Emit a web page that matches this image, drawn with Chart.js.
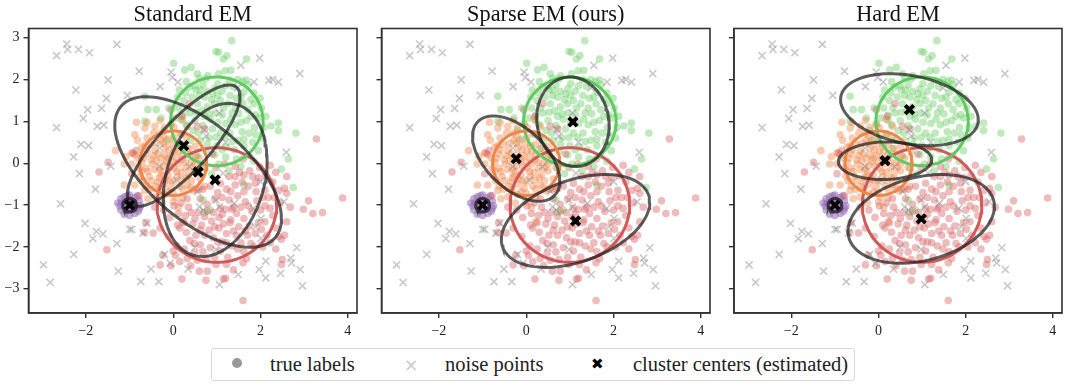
<!DOCTYPE html>
<html>
<head>
<meta charset="utf-8">
<title>EM clusters</title>
<script src="https://cdn.jsdelivr.net/npm/chart.js@4"></script>
<style>
body { margin: 0; background: #fff; width: 1080px; height: 387px; overflow: hidden; position: relative; font-family: "Liberation Serif", serif; }
canvas { position: absolute; top: 0; }
#legend { position: absolute; left: 211px; top: 348px; width: 644px; height: 33px; box-sizing: border-box; border: 1px solid #d9d9d9; border-radius: 3px; font-size: 20.5px; color: #222; }
#legend span { position: absolute; top: 4px; white-space: nowrap; }
#legend i { position: absolute; display: block; }
</style>
</head>
<body>
<canvas id="standard" width="367" height="335" style="left:0"></canvas>
<canvas id="sparse" width="367" height="335" style="left:353px"></canvas>
<canvas id="hard" width="367" height="335" style="left:705px"></canvas>
<div id="legend">
    <i style="left:20px;top:9px;width:10px;height:10px;border-radius:50%;background:#999"></i>
    <span style="left:58px">true labels</span>
    <span style="left:192px;top:6px;color:#c8c8c8;font-size:17px;font-family:'DejaVu Sans'">×</span>
    <span style="left:233px">noise points</span>
    <span style="left:379px;top:6px;color:#000;font-size:15px;font-family:'DejaVu Sans'">✖</span>
    <span style="left:421px">cluster centers (estimated)</span>
</div>
<script>
const titles = ['Standard EM', 'Sparse EM (ours)', 'Hard EM'];
const xTicks = [-2, 0, 2, 4];
const yTicks = [-3, -2, -1, 0, 1, 2, 3];

const noisePoints = [[-2.44,2.85],[-2.42,2.72],[-2.67,2.57],[-2.17,2.72],[-1.92,2.64],[-1.29,2.84],[-2.23,1.75],[-1.49,1.99],[-0.78,2.2],[-0.05,2.18],[-0.02,2.05],[0.11,1.94],[-0.3,1.83],[-1.05,1.62],[-1.53,1.55],[-1.64,1.31],[-1.96,1.28],[-2.06,1.07],[-2.67,0.85],[-1.74,0.88],[-1.59,0.91],[-2.11,0.45],[-1.94,0.42],[-2.28,0.15],[-2.15,-0.25],[-1.43,-0.07],[-1.78,-0.62],[-2.58,-0.97],[-2.02,-1.44],[-1.76,-1.63],[-1.84,-1.8],[-1.61,-1.69],[-1.29,-1.92],[-2.28,-2.18],[-2.97,-2.43],[-2.82,-2.85],[-1.26,-2.58],[-0.74,-2.83],[-0.51,-2.53],[-0.33,-2.83],[-1,-1.58],[-0.6,-1.43],[-0.69,-1.67],[-0.2,-2.18],[-0.07,-2.39],[0.34,-2.53],[0.5,-2.01],[0.98,-2.06],[1.06,-2.9],[1.49,-2.66],[1.97,-2.54],[2.12,-2.34],[2.12,-2.74],[2.46,-2.63],[2.69,-2.27],[2.83,-2.02],[2.71,-2.38],[2.91,-2.54],[2.96,-2.93],[1.98,2.51],[1.55,2.34],[1.85,1.94],[2.19,1.98],[2.28,2],[2.41,1.94],[2.9,2.14],[2.59,0.26],[2.54,-0.92],[2,-0.44],[1.84,-1.08],[2.01,-1.32],[2.01,-1.8],[1.89,-1.52],[1.4,-0.96],[0.98,-0.88],[1.06,-1.04],[0.6,-1.04],[0.69,-1.12],[0.56,-0.68],[0.71,0.8],[1.06,1.2],[1.48,1.8],[-0.31,0.36],[-0.31,-0.08],[0.07,-0.4],[0.37,-0.08],[1.14,-0.24],[-0.95,-1.58],[1.2,0.5],[0.75,0.65]];

const greenPoints = [[1.34,2.93],[0.98,2.67],[1.04,2.65],[1.23,2.57],[1.15,2.49],[1.68,2.49],[0.01,2.39],[0.41,2.29],[0.26,2.23],[0.55,2.14],[1.19,2.21],[1.32,2.22],[1.04,2.14],[0.79,2.09],[0.6,2.03],[0.3,1.95],[0.37,1.82],[0.14,1.75],[0.52,1.75],[0.68,1.87],[1.67,1.99],[1.59,1.95],[1.29,1.99],[-0.65,1.6],[-0.58,1.28],[-0.39,1.28],[-0.65,1],[2.81,0.72],[2.41,0.96],[2.41,0.78],[2.24,0.89],[2.48,-0.14],[2.64,0.1],[2.75,-0.58],[1.99,1.55],[1.89,1.16],[2.02,1.32],[1.95,1.08],[2.08,0.86],[1.86,0.85],[1.74,0.72],[1.68,1.02],[1.71,1.28],[1.6,1.42],[1.45,1.55],[1.62,1.7],[1.38,1.83],[1.12,1.72],[1.02,1.9],[0.9,1.66],[0.72,1.58],[0.55,1.42],[0.43,1.58],[0.25,1.5],[0.12,1.32],[-0.1,1.32],[0.05,1.08],[0.22,1.15],[0.38,1.2],[0.5,1.02],[0.65,1.25],[0.78,1.35],[0.95,1.42],[1.08,1.5],[1.25,1.42],[1.35,1.2],[1.5,1.18],[1.12,1.15],[0.96,1.2],[0.85,1.05],[1.02,0.98],[1.2,0.95],[1.42,0.92],[1.58,0.75],[1.48,0.55],[1.3,0.72],[1.08,0.72],[0.9,0.82],[0.68,0.9],[0.45,0.78],[0.3,0.92],[0.18,0.7],[0.4,0.55],[0.62,0.55],[0.82,0.6],[1.0,0.42],[1.22,0.38],[1.4,0.32],[1.62,0.42],[1.82,0.5],[1.95,0.3],[1.7,0.18],[1.45,0.1],[1.2,0.15],[0.95,0.2],[0.75,0.28],[1.85,0.05],[1.55,-0.08],[1.28,-0.18],[1.05,-0.02],[0.88,-0.25],[2.05,0.6],[1.15,1.32],[1.55,1.58],[0.32,0.35],[0.55,0.18],[0.72,-0.12],[-0.2,0.78],[-0.15,0.55],[0.75,2.02],[0.95,1.78],[1.48,2.0],[1.78,1.52],[1.3,1.62],[1.85,1.68],[0.62,1.75],[0.28,1.68],[0.82,1.18],[1.62,-0.52],[0.85,-1.12],[0.68,-0.88],[0.72,-1.18],[0.33,1.32],[0.6,1.62],[0.88,1.52],[1.2,1.85],[1.42,1.32],[1.78,1.12],[1.32,1.05],[0.72,1.12],[0.52,1.22],[0.22,1.02],[0.58,0.72],[0.98,0.62],[1.18,0.62],[1.55,0.98],[1.9,0.68],[1.62,0.58],[0.78,0.45],[1.12,0.32],[1.35,0.52],[0.5,1.85],[-0.28,1.08],[1.72,1.88],[0.1,1.58],[2.12,1.12],[1.02,1.62],[0.78,1.72],[-0.05,0.95],[1.85,1.42]];

const orangePoints = [[-1.32,0.3],[-1.08,0.16],[-0.84,0.98],[-0.6,0.97],[-0.65,0.84],[-0.3,1.02],[-0.45,0.72],[-0.2,0.85],[-0.05,0.92],[0.18,1.05],[-0.28,0.55],[-0.52,0.45],[-0.72,0.38],[-0.88,0.2],[-0.62,0.22],[-0.42,0.3],[-0.18,0.38],[0.02,0.62],[0.22,0.45],[0.38,0.22],[0.12,0.28],[-0.05,0.18],[-0.28,0.12],[-0.5,0.08],[-0.72,0.02],[-0.95,-0.02],[-1.12,-0.02],[-0.62,-0.12],[-0.42,-0.15],[-0.22,-0.05],[0,0.02],[0.2,0.08],[0.42,0.02],[0.6,0.12],[0.68,-0.1],[0.5,-0.18],[0.28,-0.12],[0.08,-0.2],[-0.12,-0.28],[-0.32,-0.35],[-0.55,-0.32],[-0.75,-0.3],[-0.88,-0.52],[-1.12,-0.52],[-0.62,-0.55],[-0.4,-0.55],[-0.2,-0.5],[0,-0.45],[0.2,-0.4],[0.42,-0.42],[0.62,-0.38],[0.72,-0.55],[0.45,-0.65],[0.22,-0.62],[0,-0.72],[-0.2,-0.75],[-0.42,-0.8],[-0.65,-0.65],[-0.58,-0.85],[-0.25,-0.95],[0,-0.92],[0.22,-0.82],[0.12,-1.05],[0.22,-1.4],[-0.15,0.05],[-0.35,0.22],[-0.1,0.32],[0.1,0.42],[0.3,0.62],[0.5,0.4],[-0.6,0.6],[-0.82,0.55],[-0.95,0.25],[-0.78,-0.12],[-0.48,-0.02],[-0.25,-0.2],[0.02,-0.12],[0.18,-0.22],[0.35,-0.28],[-0.05,-0.6],[-0.32,-0.62],[-0.5,-0.42],[-0.12,0.12],[0.08,0.12],[0.28,0.02],[-0.38,0.48],[-0.22,0.65],[0.5,-0.02],[0.6,-0.62],[-0.02,0.45],[-0.68,0.12],[-0.88,0.68],[-0.42,0.88],[0.02,0.85],[0.32,0.88],[-0.7,-0.42],[0.15,-0.55],[-0.18,-0.38],[-0.6,0.32],[0.22,0.2],[-0.32,-0.12],[0.42,-0.12],[-0.38,0.05],[-0.2,0.2],[0.02,0.28],[-0.08,-0.08],[0.12,-0.02],[-0.28,-0.28],[0.3,-0.35],[-0.45,0.18],[-0.58,-0.2],[-0.08,-0.42],[0.1,-0.32],[-0.35,-0.45],[0.52,0.18],[0.35,0.35],[-0.22,0.48],[-0.52,-0.62],[0.32,-0.52],[-0.12,-0.68],[-0.72,-0.18],[-0.8,0.12],[-0.3,0.72],[-0.65,0.42],[0.18,0.7],[-0.1,0.58],[0.4,-0.58],[0.05,-0.82]];

const redPoints = [[3.88,-0.83],[3.28,0.58],[3.1,-0.9],[3.2,-1.2],[3.42,-1.18],[2.98,-1.1],[1.6,-3.28],[-1.52,-2.07],[-1.7,-0.21],[-1.49,0.02],[-0.92,0.24],[2.5,-2.3],[2.48,-2.42],[0.2,-2.77],[0.75,-2.8],[1.15,-2.77],[1.2,-2.75],[0.6,-2.58],[0.78,-2.58],[1.22,-2.42],[1.38,-2.55],[1.6,-2.38],[-0.3,-2.43],[-0.24,-2.2],[0,-2.1],[-0.66,-1.65],[-0.46,-1.67],[-0.63,-1.42],[2.35,-2.05],[2.55,-1.72],[2.42,-1.75],[2.6,-1.4],[2.68,-1.05],[2.55,-0.6],[2.6,-0.32],[2.35,-0.22],[2.28,-0.45],[2.45,-0.95],[2.28,-1.25],[2.35,-1.55],[2.15,-1.72],[2.1,-0.65],[1.95,-0.35],[1.9,-0.68],[1.72,-0.55],[1.58,-0.45],[1.42,-0.52],[1.22,-0.62],[1.02,-0.7],[1.92,-0.9],[2.1,-1.02],[1.8,-1.15],[1.65,-0.92],[1.48,-0.78],[1.28,-0.88],[1.2,-1.1],[1.45,-1.2],[1.62,-1.32],[1.95,-1.42],[1.75,-1.5],[1.5,-1.52],[1.3,-1.42],[1.05,-1.3],[0.88,-1.38],[0.72,-1.28],[0.5,-1.32],[0.45,-1.45],[0.65,-1.48],[0.82,-1.6],[1.05,-1.55],[1.22,-1.68],[1.45,-1.72],[1.7,-1.72],[1.55,-1.9],[1.35,-1.98],[1.12,-1.88],[0.92,-1.78],[0.72,-1.72],[0.52,-1.72],[0.3,-1.65],[0.1,-1.48],[0.38,-1.85],[0.62,-1.95],[0.85,-2.02],[1.08,-2.1],[0.48,-2.15],[0.25,-2.05],[0.05,-2.2],[-0.05,-2.45],[0.15,-2.35],[0.32,-2.28],[0.55,-2.32],[0.75,-2.3],[0.95,-2.25],[1.25,-2.25],[1.62,-2.12],[1.85,-2.0],[2.05,-2.0],[0.95,-0.85],[0.78,-0.98],[0.62,-0.85],[0.52,-0.62],[0.85,-0.55],[1.08,-0.48],[1.28,-0.32],[1.52,-0.22],[1.75,-0.18],[1.98,-0.1],[2.22,-0.05],[1.62,-0.68],[1.38,-1.05],[1.08,-1.08],[0.35,-1.05],[0.18,-0.95],[-0.08,-1.3],[0.12,-1.2],[0.28,-1.25],[-0.3,-1.55],[-0.1,-1.75],[-0.22,-1.12],[0.02,-1.02],[-0.78,-0.78],[-0.42,-1.05],[0.15,-1.55],[0.62,-1.6],[1.02,-1.88],[1.32,-1.35],[1.88,-1.68],[2.1,-1.4],[2.22,-1.08],[2.05,-0.82],[1.82,-0.32],[2.48,-1.82],[2.6,-0.72],[0.72,0.82],[0.38,1.42],[0.2,1.12],[-0.05,1.28],[0.9,0.22],[0.55,0.88],[0.98,-0.1],[1.18,-0.02],[1.42,-0.08],[1.6,0.1],[-0.85,0.3],[-0.95,-0.25],[1.68,-2.28],[1.35,-1.1],[1.12,-1.22],[0.92,-1.18],[0.68,-0.62],[0.32,-0.85],[1.72,-1.02],[1.22,-1.9],[0.48,-1.92],[0.08,-1.98],[2.0,-1.12],[1.55,-1.05],[1.32,-0.68],[0.78,-1.15],[1.62,-0.28],[1.88,-0.48],[2.18,-0.82],[2.02,-1.58],[1.65,-1.62],[1.38,-1.62],[1.15,-1.45],[0.95,-1.52],[0.42,-1.18],[0.25,-1.42],[0.58,-1.18],[1.48,-2.05],[1.78,-1.92],[0.98,-2.42],[0.4,-2.45],[0.68,-2.12],[2.22,-1.9],[2.32,-0.82],[1.42,-0.32],[1.12,-0.82],[2.12,-0.3],[2.42,-0.65]];

const purplePoints = [[-1.22,-1.02],[-1.2,-0.85],[-1.12,-0.8],[-1,-0.76],[-0.88,-0.82],[-0.78,-0.9],[-0.75,-1.02],[-0.8,-1.15],[-0.88,-1.2],[-1,-1.25],[-1.12,-1.22],[-1.2,-1.12],[-1.08,-0.92],[-0.95,-0.92],[-0.9,-1.02],[-1.05,-1.1],[-0.96,-1.12],[-1.1,-1.02],[-1.27,-0.95],[-0.82,-0.78],[-1.05,-0.78],[-0.92,-0.98],[-1.18,-0.95],[-0.78,-1.08]];

const trueCenters = [[-1, -1], [0, 0], [1, 1], [1, -1]];
const trueRadii = [0.15, 0.77, 1.06, 1.37];
const trueColors = ['#8a5fae', '#ee854a', '#5fca5f', '#cf5a5a'];

// estimated cluster centers and spreads [x extent, y extent, correlation], one list per panel
const standardCenters = [[-1, -1], [0.24, 0.42], [0.57, -0.21], [0.96, -0.40]];
const standardSpreads = [[0.16, 0.16, 0], [1.29, 1.45, 0.81], [1.91, 1.80, -0.62], [1.19, 1.83, 0.25]];
const sparseCenters = [[-1, -1], [-0.23, 0.11], [1.07, 0.99], [1.13, -1.38]];
const sparseSpreads = [[0.16, 0.16, 0], [1.0, 1.02, -0.52], [0.83, 1.07, -0.08], [1.70, 1.11, 0.4]];
const hardCenters = [[-1, -1], [0.15, 0.06], [0.71, 1.28], [0.98, -1.33]];
const hardSpreads = [[0.16, 0.16, 0], [1.07, 0.45, 0.05], [1.58, 0.86, -0.28], [1.68, 1.06, 0.28]];

// outline of an ellipse as a closed line
function outline(center, spread) {
    const points = [];
    const root = Math.sqrt(1 - spread[2] * spread[2]);
    for (let i = 0; i <= 90; i++) {
        const t = i / 90 * 2 * Math.PI;
        points.push({
            x: center[0] + spread[0] * Math.cos(t),
            y: center[1] + spread[1] * (spread[2] * Math.cos(t) + root * Math.sin(t))
        });
    }
    return points;
}

function cloud(points, color, order) {
    return {
        data: points.map(p => ({ x: p[0], y: p[1] })),
        backgroundColor: color,
        borderWidth: 0,
        pointRadius: 3.8,
        order: order
    };
}

const framePlugin = {
    id: 'frame',
    afterDraw(chart) {
        const area = chart.chartArea;
        const ctx = chart.ctx;
        ctx.save();
        ctx.strokeStyle = '#333';
        ctx.lineWidth = 1.6;
        ctx.strokeRect(area.left, area.top, area.right - area.left, area.bottom - area.top);
        ctx.restore();
    }
};

function drawPanel(id, index, left, centers, spreads) {
    const datasets = [
        cloud(redPoints, 'rgba(214,95,95,0.42)', 7),
        cloud(orangePoints, 'rgba(238,133,74,0.42)', 7),
        cloud(greenPoints, 'rgba(106,204,100,0.42)', 7),
        cloud(purplePoints, 'rgba(149,108,180,0.55)', 7),
        {
            data: noisePoints.map(p => ({ x: p[0], y: p[1] })),
            pointStyle: 'crossRot',
            pointRadius: 5,
            borderWidth: 1.6,
            borderColor: 'rgba(120,120,120,0.4)',
            backgroundColor: 'rgba(120,120,120,0.4)',
            order: 6
        }
    ];
    trueCenters.forEach((center, i) => {
        datasets.push({
            data: outline(center, [trueRadii[i], trueRadii[i], 0]),
            showLine: true,
            pointRadius: 0,
            borderColor: trueColors[i],
            borderWidth: 3,
            order: 5
        });
    });
    centers.forEach((center, i) => {
        datasets.push({
            data: outline(center, spreads[i]),
            showLine: true,
            pointRadius: 0,
            borderColor: 'rgba(30,30,30,0.72)',
            borderWidth: 3,
            order: 4
        });
    });
    datasets.push({
        data: centers.map(c => ({ x: c[0], y: c[1] })),
        pointStyle: 'crossRot',
        pointRadius: 6,
        borderWidth: 4,
        borderColor: '#000',
        backgroundColor: '#000',
        order: 1
    });

    new Chart(document.getElementById(id), {
        type: 'scatter',
        data: { datasets: datasets },
        plugins: [framePlugin],
        options: {
            responsive: false,
            animation: false,
            layout: { padding: { right: 360 - left - 329.3 } },
            plugins: {
                legend: { display: false },
                tooltip: { enabled: false },
                title: {
                    display: true,
                    text: titles[index],
                    fullSize: false,
                    color: '#111',
                    font: { family: 'Liberation Serif', size: 22.3, weight: 'normal', lineHeight: 1 },
                    padding: { top: 4.2, bottom: 2 }
                }
            },
            scales: {
                x: {
                    type: 'linear',
                    min: -3.315,
                    max: 4.21,
                    afterBuildTicks: axis => { axis.ticks = xTicks.map(v => ({ value: v })); },
                    afterFit: axis => { axis.height = 22; axis.paddingLeft = 0; axis.paddingRight = 0; },
                    grid: { drawOnChartArea: false, color: '#333', lineWidth: 1.4, tickLength: 5 },
                    border: { color: '#333', width: 1.6 },
                    ticks: {
                        color: '#222',
                        padding: 5,
                        maxRotation: 0,
                        font: { family: 'Liberation Serif', size: 14 },
                        callback: v => String(v).replace('-', '\u2212')
                    }
                },
                y: {
                    type: 'linear',
                    min: -3.58,
                    max: 3.22,
                    afterBuildTicks: axis => { axis.ticks = yTicks.map(v => ({ value: v })); },
                    afterFit: axis => { axis.width = left; axis.paddingTop = 0; axis.paddingBottom = 0; },
                    grid: { drawOnChartArea: false, color: '#333', lineWidth: 1.4, tickLength: 5 },
                    border: { color: '#333', width: 1.6 },
                    ticks: {
                        color: '#222',
                        padding: 4,
                        font: { family: 'Liberation Serif', size: 14 },
                        callback: v => index === 0 ? String(v).replace('-', '\u2212') : ''
                    }
                }
            }
        }
    });
}

drawPanel('standard', 0, 28.5, standardCenters, standardSpreads);
drawPanel('sparse', 1, 28.5, sparseCenters, sparseSpreads);
drawPanel('hard', 2, 29, hardCenters, hardSpreads);
</script>
</body>
</html>
